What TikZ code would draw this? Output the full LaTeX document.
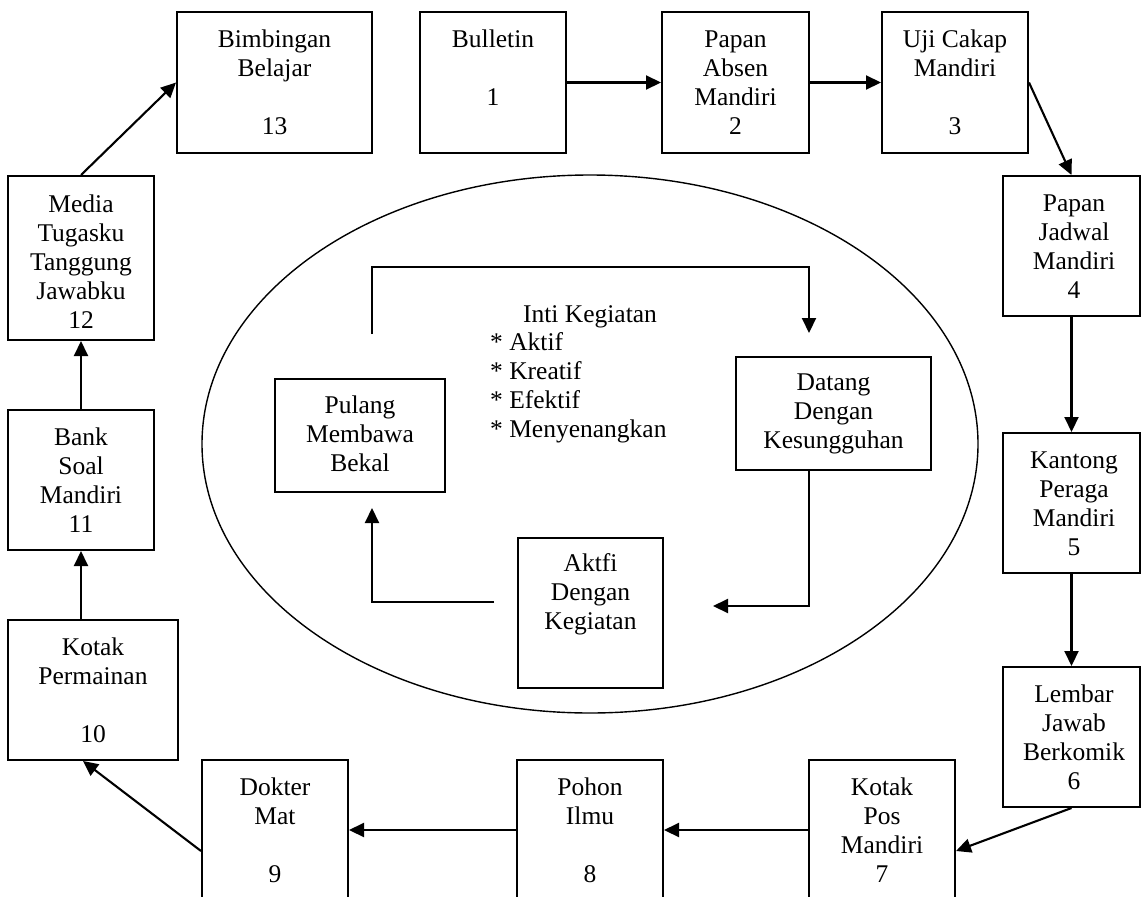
\documentclass[tikz,border=0pt]{standalone}
\usepackage{fontspec}
\setmainfont{Liberation Serif}
\usetikzlibrary{arrows.meta,calc}
\newcommand\ctext[1]{\begin{tabular}[t]{@{}c@{}}#1\end{tabular}}
\newcommand\ltext[1]{\begin{tabular}[t]{@{}l@{}}#1\end{tabular}}
\begin{document}
\begin{tikzpicture}[x=1pt,y=-1pt,
  box/.style={draw, line width=2pt, rectangle, inner sep=0pt},
  txt/.style={inner sep=0pt, anchor=base, font=\fontsize{25.5}{29}\selectfont},
  conn/.style={line width=2.1pt, -{Triangle[length=15pt,width=14pt]}},
  oval/.style={line width=1.4pt}]
\useasboundingbox (0,0) rectangle (1141,897);
\clip (0,0) rectangle (1141,897);
\fill[white] (0,0) rectangle (1141,897);

% outer boxes
\node[box, minimum width=195pt, minimum height=141pt] (b13) at (274.5,82.5) {};
\node[box, minimum width=146pt, minimum height=141pt] (b1) at (493,82.5) {};
\node[box, minimum width=147pt, minimum height=141pt] (b2) at (735.5,82.5) {};
\node[box, minimum width=146pt, minimum height=141pt] (b3) at (955,82.5) {};
\node[box, minimum width=137pt, minimum height=140pt] (b4) at (1071.5,246) {};
\node[box, minimum width=137pt, minimum height=140pt] (b5) at (1071.5,503) {};
\node[box, minimum width=137pt, minimum height=140pt] (b6) at (1071.5,737) {};
\node[box, minimum width=146pt, minimum height=160pt] (b7) at (882,840) {};
\node[box, minimum width=146pt, minimum height=160pt] (b8) at (590,840) {};
\node[box, minimum width=146pt, minimum height=160pt] (b9) at (275,840) {};
\node[box, minimum width=170pt, minimum height=140pt] (b10) at (93,690) {};
\node[box, minimum width=146pt, minimum height=140pt] (b11) at (81,480) {};
\node[box, minimum width=146pt, minimum height=164pt] (b12) at (81,258) {};

% outer texts
\node[txt] (t13) at (274.5,47) {\ctext{Bimbingan\\Belajar\\ \\13}};
\node[txt] (t1) at (493,47) {\ctext{Bulletin\\ \\1}};
\node[txt] (t2) at (735.5,47) {\ctext{Papan\\Absen\\Mandiri\\2}};
\node[txt] (t3) at (955,47) {\ctext{Uji Cakap\\Mandiri\\ \\3}};
\node[txt] (t4) at (1074,211) {\ctext{Papan\\Jadwal\\Mandiri\\4}};
\node[txt] (t5) at (1074,468) {\ctext{Kantong\\Peraga\\Mandiri\\5}};
\node[txt] (t6) at (1074,702) {\ctext{Lembar\\Jawab\\Berkomik\\6}};
\node[txt] (t7) at (882,795) {\ctext{Kotak\\Pos\\Mandiri\\7}};
\node[txt] (t8) at (590,795) {\ctext{Pohon\\Ilmu\\ \\8}};
\node[txt] (t9) at (275,795) {\ctext{Dokter\\Mat\\ \\9}};
\node[txt] (t10) at (93,655) {\ctext{Kotak\\Permainan\\ \\10}};
\node[txt] (t11) at (81,445) {\ctext{Bank\\Soal\\Mandiri\\11}};
\node[txt] (t12) at (81,212) {\ctext{Media\\Tugasku\\Tanggung\\Jawabku\\12}};

% outer connectors
\draw[conn] (b1.east) -- (b2.west);
\draw[conn] (b2.east) -- (b3.west);
\draw[conn] (b3.east) -- (b4.north);
\draw[conn] (b4.south) -- (b5.north);
\draw[conn] (b5.south) -- (b6.north);
\draw[conn] (b6.south) -- ($(b7.north east)+(0,92)$);
\draw[conn] ($(b7.north west)+(0,71)$) -- ($(b8.north east)+(0,71)$);
\draw[conn] ($(b8.north west)+(0,71)$) -- ($(b9.north east)+(0,71)$);
\draw[conn] ($(b9.north west)+(0,92)$) -- ([xshift=-10pt]b10.south);
\draw[conn] (b10.north -| b11.south) -- (b11.south);
\draw[conn] (b11.north) -- (b12.south);
\draw[conn] (b12.north) -- (b13.west);

% ellipse
\draw[oval] (590,444) ellipse [x radius=388pt, y radius=269pt];

% inner boxes
\node[box, minimum width=170pt, minimum height=113pt] (pulang) at (360,435.5) {};
\node[box, minimum width=195pt, minimum height=113pt] (datang) at (833.5,413.5) {};
\node[box, minimum width=145pt, minimum height=150pt] (aktfi) at (590.5,613) {};
\node[txt] (tp) at (360,413) {\ctext{Pulang\\Membawa\\Bekal}};
\node[txt] (td) at (833.5,390) {\ctext{Datang\\Dengan\\Kesungguhan}};
\node[txt] (ta) at (590.5,571) {\ctext{Aktfi\\Dengan\\Kegiatan}};
\node[txt] (inti) at (590,322) {Inti Kegiatan};
\node[txt, anchor=base west] (list) at (490,350) {\ltext{{*} Aktif\\{*} Kreatif\\{*} Efektif\\{*} Menyenangkan}};

% inner connectors
\coordinate (p1) at (372,334);
\coordinate (topmid) at (590,267);
\coordinate (d1) at (809,333);
\coordinate (a1) at (713,606);
\coordinate (a2) at (494,602);
\coordinate (p2) at (372,508);
\draw[conn] (p1) |- (topmid) -| (d1);
\draw[conn] (datang.south -| d1) |- (a1);
\draw[conn] (a2) -| (p2);
\end{tikzpicture}
\end{document}
